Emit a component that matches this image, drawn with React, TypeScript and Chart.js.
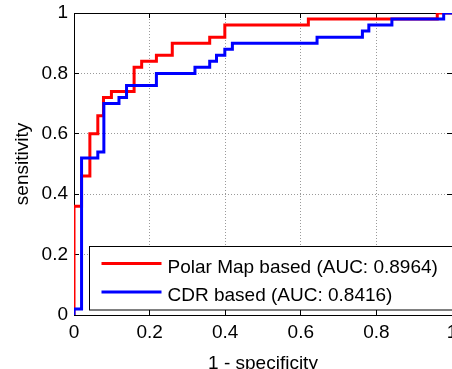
import React, { useEffect, useRef } from 'react';
import { Chart, registerables } from 'chart.js';

Chart.register(...registerables);

// ---- data ----
const POLAR_FPR = [0, 0, 0.02, 0.042, 0.063, 0.078, 0.099, 0.159, 0.179, 0.218, 0.26, 0.359, 0.399, 0.62, 0.961, 1];
const POLAR_TPR = [0, 0.36, 0.46, 0.6, 0.66, 0.72, 0.74, 0.82, 0.84, 0.86, 0.9, 0.92, 0.96, 0.98, 1, 1];
const CDR_FPR = [0, 0, 0.02, 0.063, 0.079, 0.119, 0.139, 0.218, 0.32, 0.359, 0.377, 0.399, 0.419, 0.643, 0.763, 0.78, 0.841, 0.978, 1];
const CDR_TPR = [0, 0.02, 0.52, 0.54, 0.7, 0.72, 0.76, 0.8, 0.82, 0.84, 0.86, 0.88, 0.9, 0.92, 0.94, 0.96, 0.98, 1, 1];
const SERIES_LABELS = ['Polar Map based (AUC: 0.8964)', 'CDR based (AUC: 0.8416)'];
const SERIES_COLORS = ['#ff0000', '#0000ff'];
const TICK_VALUES = [0, 0.2, 0.4, 0.6, 0.8, 1];
const TICK_LABELS = ['0', '0.2', '0.4', '0.6', '0.8', '1'];
const X_TITLE = '1 - specificity';
const Y_TITLE = 'sensitivity';

const FONT = '"Liberation Sans", Arial, Helvetica, sans-serif';
const FONT_SIZE = 19;

const toPoints = (xs: number[], ys: number[]) => xs.map((x, i) => ({ x, y: ys[i] }));

const setTicks = (scale: any) => {
  scale.ticks = TICK_VALUES.map((v) => ({ value: v }));
};
const tickLabel = (v: any) => {
  const i = TICK_VALUES.indexOf(Number(v));
  return i >= 0 ? TICK_LABELS[i] : '';
};

const insetLegend = {
  id: 'insetLegend',
  afterDatasetsDraw(chart: any) {
    const { ctx, chartArea } = chart;
    const left = chartArea.left + 15.5;
    const top = chartArea.top + 233.5;
    const w = chart.width - left + 10;
    const h = 63.5;
    ctx.save();
    ctx.fillStyle = '#ffffff';
    ctx.fillRect(left, top, w, h);
    ctx.strokeStyle = '#000000';
    ctx.lineWidth = 1;
    ctx.strokeRect(left, top, w, h);
    chart.data.datasets.forEach((ds: any, i: number) => {
      const yLine = top + 17 + i * 28.4;
      ctx.strokeStyle = ds.borderColor;
      ctx.lineWidth = 3;
      ctx.beginPath();
      ctx.moveTo(left + 12, yLine);
      ctx.lineTo(left + 72, yLine);
      ctx.stroke();
      ctx.fillStyle = '#000000';
      ctx.font = `${FONT_SIZE}px ${FONT}`;
      ctx.textAlign = 'left';
      ctx.textBaseline = 'alphabetic';
      ctx.fillText(ds.label, left + 78, top + 26.2 + i * 28.4);
    });
    ctx.restore();
  },
};

export default function App() {
  const ref = useRef<HTMLCanvasElement | null>(null);

  useEffect(() => {
    if (!ref.current) return;
    const font = { family: FONT, size: FONT_SIZE };
    const gridMain = {
      color: 'rgba(120,120,120,0.75)',
      lineWidth: 1,
      drawTicks: true,
      tickColor: '#000000',
      tickLength: -5,
      tickWidth: 1,
      tickBorderDash: [],
    };
    const borderMain = { display: true, color: '#000000', width: 1, dash: [1, 2] };

    const chart = new Chart(ref.current, {
      type: 'line',
      data: {
        datasets: [
          {
            label: SERIES_LABELS[0],
            data: toPoints(POLAR_FPR, POLAR_TPR),
            borderColor: SERIES_COLORS[0],
            backgroundColor: SERIES_COLORS[0],
            borderWidth: 3,
            pointRadius: 0,
            stepped: 'before',
            fill: false,
            order: 2,
            xAxisID: 'x',
            yAxisID: 'y',
          },
          {
            label: SERIES_LABELS[1],
            data: toPoints(CDR_FPR, CDR_TPR),
            borderColor: SERIES_COLORS[1],
            backgroundColor: SERIES_COLORS[1],
            borderWidth: 3,
            pointRadius: 0,
            stepped: 'before',
            fill: false,
            order: 1,
            xAxisID: 'x',
            yAxisID: 'y',
          },
        ],
      },
      options: {
        responsive: false,
        animation: false,
        devicePixelRatio: 1,
        layout: { padding: { top: 13, left: 0, right: 0, bottom: 0 } },
        plugins: {
          legend: { display: false },
          tooltip: { enabled: false },
        },
        scales: {
          x: {
            type: 'linear',
            position: 'bottom',
            min: 0,
            max: 1,
            afterBuildTicks: setTicks,
            afterFit: (s: any) => {
              s.height = 54;
              s.paddingLeft = 0;
              s.paddingRight = 0;
            },
            ticks: { font, color: '#000000', padding: 11, maxRotation: 0, autoSkip: false, callback: tickLabel },
            grid: gridMain,
            border: borderMain,
            title: { display: true, text: X_TITLE, font, color: '#000000', padding: { top: 0, bottom: -6 } },
          },
          y: {
            type: 'linear',
            position: 'left',
            min: 0,
            max: 1,
            afterBuildTicks: setTicks,
            afterFit: (s: any) => {
              s.width = 74;
              s.paddingTop = 0;
              s.paddingBottom = 0;
            },
            ticks: { font, color: '#000000', padding: 11, autoSkip: false, callback: tickLabel },
            grid: gridMain,
            border: borderMain,
            title: { display: true, text: Y_TITLE, font, color: '#000000', padding: { top: 11.6, bottom: 0 } },
          },
          x2: {
            type: 'linear',
            position: 'top',
            min: 0,
            max: 1,
            afterBuildTicks: setTicks,
            afterFit: (s: any) => {
              s.height = 0;
              s.paddingLeft = 0;
              s.paddingRight = 0;
            },
            ticks: { display: false },
            grid: { drawOnChartArea: false, drawTicks: true, tickColor: '#000000', tickLength: -5, tickWidth: 1 },
            border: { display: true, color: '#000000', width: 1 },
          },
          y2: {
            type: 'linear',
            position: 'right',
            min: 0,
            max: 1,
            afterBuildTicks: setTicks,
            afterFit: (s: any) => {
              s.width = 0;
              s.paddingTop = 0;
              s.paddingBottom = 0;
            },
            ticks: { display: false },
            grid: { drawOnChartArea: false, drawTicks: true, tickColor: '#000000', tickLength: -5, tickWidth: 1 },
            border: { display: false },
          },
        },
      } as any,
      plugins: [insetLegend],
    });
    return () => chart.destroy();
  }, []);

  return (
    <div style={{ position: 'fixed', left: 0, top: 0, width: 452, height: 369, background: '#ffffff' }}>
      <canvas ref={ref} width={452} height={369} style={{ display: 'block', width: 452, height: 369 }} />
    </div>
  );
}
